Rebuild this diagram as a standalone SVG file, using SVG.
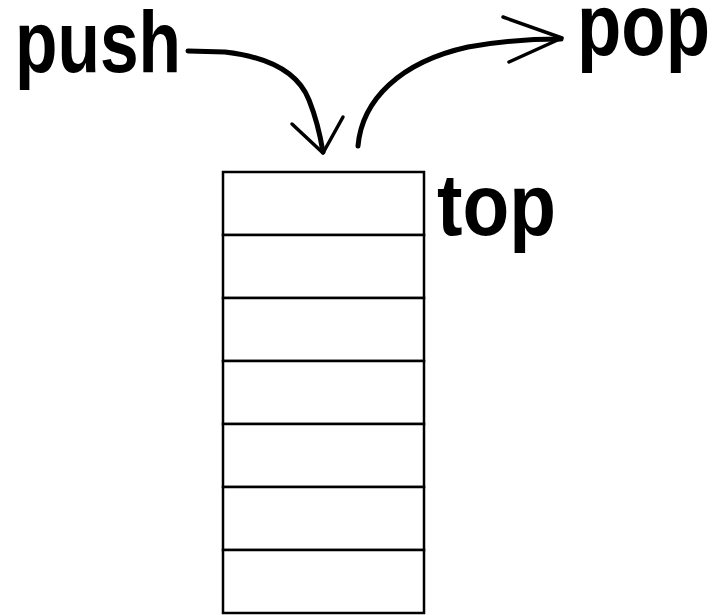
<svg xmlns="http://www.w3.org/2000/svg" width="713" height="615" viewBox="0 0 713 615">
<style>
.lbl{font-family:"Liberation Sans",Arial,sans-serif;font-weight:bold;font-size:87px;fill:#000}
.cell{fill:#fff;stroke:#000;stroke-width:2.5}
.arr{fill:none;stroke:#000;stroke-width:5;stroke-linecap:round;stroke-linejoin:round}
.head{fill:none;stroke:#000;stroke-width:3.5;stroke-linecap:round;stroke-linejoin:round}
</style>
<rect width="713" height="615" fill="#fff"/>
<g id="stack">
<rect class="cell" x="223" y="172" width="201" height="63"/>
<rect class="cell" x="223" y="235" width="201" height="63"/>
<rect class="cell" x="223" y="298" width="201" height="63"/>
<rect class="cell" x="223" y="361" width="201" height="63"/>
<rect class="cell" x="223" y="424" width="201" height="63"/>
<rect class="cell" x="223" y="487" width="201" height="63"/>
<rect class="cell" x="223" y="550" width="201" height="63"/>
</g>
<g id="label-push"><text class="lbl" x="15" y="72" textLength="166" lengthAdjust="spacingAndGlyphs">push</text></g>
<g id="label-pop"><text class="lbl" x="577" y="55" textLength="133" lengthAdjust="spacingAndGlyphs">pop</text></g>
<g id="label-top"><text class="lbl" x="437" y="235" textLength="119" lengthAdjust="spacingAndGlyphs">top</text></g>
<g id="connectors">
<path class="arr" d="M188,51 L225,52 C268,57 298,72 309,100 C317,120 321,140 323,152"/>
<path class="head" d="M292,124 L323,153 L343,117"/>
<path class="arr" d="M358,146 C362,100 400,62 468,47 C500,41 530,39 561,39"/>
<path class="head" d="M503,17 L562,38 L509,62"/>
</g>
</svg>
